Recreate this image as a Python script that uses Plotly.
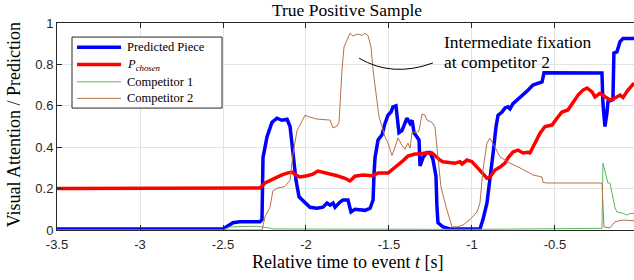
import plotly.graph_objects as go

# ---------------- data ----------------
t_pred = [-3.5, -2.5, -2.44, -2.40, -2.277, -2.265, -2.259, -2.235, -2.205, -2.175, -2.145, -2.114,
          -2.096, -2.078, -2.060, -2.042, -2.006, -1.976, -1.934, -1.898, -1.873, -1.855, -1.837,
          -1.825, -1.795, -1.777, -1.747, -1.729, -1.705, -1.675, -1.645, -1.614, -1.596, -1.590,
          -1.584, -1.566, -1.542, -1.524, -1.506, -1.488, -1.476, -1.458, -1.452, -1.440, -1.422,
          -1.404, -1.392, -1.373, -1.361, -1.349, -1.331, -1.319, -1.313, -1.295, -1.271, -1.253,
          -1.235, -1.217, -1.211, -1.205, -1.175, -1.133, -0.952, -0.934, -0.910, -0.892, -0.873,
          -0.855, -0.843, -0.819, -0.801, -0.783, -0.771, -0.753, -0.723, -0.693, -0.663, -0.633,
          -0.608, -0.578, -0.566, -0.548, -0.217, -0.211, -0.199, -0.187, -0.181, -0.151, -0.145,
          -0.127, -0.108, -0.090, -0.024, 0.0]
y_pred = [0.005, 0.005, 0.035, 0.04, 0.04, 0.05, 0.35, 0.45, 0.52, 0.54, 0.53, 0.535,
          0.50, 0.37, 0.24, 0.16, 0.135, 0.11, 0.105, 0.11, 0.13, 0.12, 0.13,
          0.11, 0.135, 0.145, 0.145, 0.087, 0.10, 0.097, 0.095, 0.105, 0.145, 0.275,
          0.35, 0.435, 0.46, 0.515, 0.555, 0.57, 0.595, 0.60, 0.545, 0.47, 0.48,
          0.515, 0.54, 0.515, 0.53, 0.47, 0.45, 0.435, 0.31, 0.35, 0.375, 0.375,
          0.34, 0.26, 0.11, 0.035, 0.015, 0.005, 0.005, 0.05, 0.13, 0.24, 0.37,
          0.50, 0.555, 0.57, 0.59, 0.595, 0.585, 0.61, 0.63, 0.65, 0.675, 0.70,
          0.705, 0.715, 0.76, 0.76, 0.758, 0.61, 0.50, 0.565, 0.62, 0.63, 0.855,
          0.86, 0.91, 0.925, 0.925, 0.925]

t_chosen = [-3.5, -2.5, -2.277, -2.247, -2.205, -2.175, -2.145, -2.114, -2.084, -2.060, -2.036,
            -1.994, -1.958, -1.928, -1.898, -1.855, -1.813, -1.765, -1.735, -1.705, -1.657, -1.602,
            -1.566, -1.506, -1.464, -1.422, -1.386, -1.343, -1.313, -1.283, -1.241, -1.217, -1.193,
            -1.175, -1.133, -1.102, -1.072, -1.060, -1.030, -1.000, -0.970, -0.934, -0.910, -0.892,
            -0.861, -0.831, -0.801, -0.783, -0.753, -0.723, -0.693, -0.663, -0.651, -0.620, -0.590,
            -0.560, -0.518, -0.488, -0.458, -0.422, -0.392, -0.361, -0.331, -0.307, -0.277, -0.259,
            -0.229, -0.199, -0.169, -0.139, -0.108, -0.090, -0.060, -0.024]
y_chosen = [0.20, 0.20, 0.203, 0.227, 0.245, 0.255, 0.266, 0.275, 0.28, 0.266, 0.256,
            0.262, 0.27, 0.285, 0.28, 0.27, 0.262, 0.25, 0.237, 0.26, 0.266, 0.262,
            0.275, 0.275, 0.30, 0.33, 0.357, 0.367, 0.367, 0.372, 0.372, 0.352, 0.338,
            0.33, 0.328, 0.323, 0.33, 0.319, 0.338, 0.33, 0.304, 0.275, 0.25, 0.256,
            0.29, 0.304, 0.323, 0.348, 0.377, 0.386, 0.372, 0.375, 0.372, 0.42, 0.468,
            0.50, 0.507, 0.54, 0.57, 0.58, 0.613, 0.652, 0.676, 0.686, 0.667, 0.643,
            0.66, 0.643, 0.628, 0.638, 0.652, 0.64, 0.676, 0.71]

t_comp1 = [-3.5, -2.5, -2.458, -2.30, -2.235, -2.20, -1.0, -0.5, -0.217, -0.211, -0.187, -0.181,
           -0.169, -0.157, -0.139, -0.127, -0.096, -0.066, -0.048, -0.024]
y_comp1 = [0.0, 0.0, 0.015, 0.018, 0.012, 0.005, 0.003, 0.008, 0.008, 0.323, 0.256, 0.227,
           0.227, 0.18, 0.11, 0.087, 0.082, 0.072, 0.08, 0.08]

t_comp2 = [-3.5, -2.265, -2.247, -2.217, -2.199, -2.169, -2.127, -2.096, -2.078, -2.054, -2.036,
           -2.006, -1.976, -1.934, -1.855, -1.837, -1.813, -1.801, -1.783, -1.771, -1.753, -1.735,
           -1.717, -1.687, -1.663, -1.645, -1.627, -1.608, -1.596, -1.572, -1.560, -1.542, -1.524,
           -1.506, -1.482, -1.464, -1.446, -1.422, -1.404, -1.386, -1.373, -1.361, -1.337, -1.319,
           -1.301, -1.283, -1.271, -1.241, -1.223, -1.211, -1.187, -1.151, -1.120, -1.090, -1.054,
           -1.012, -0.970, -0.952, -0.934, -0.910, -0.892, -0.861, -0.831, -0.771, -0.711, -0.633,
           -0.578, -0.572, -0.548, -0.217, -0.205, -0.169, -0.139, -0.090, -0.024]
y_comp2 = [0.0, 0.0, 0.063, 0.11, 0.19, 0.203, 0.21, 0.24, 0.37, 0.48, 0.507,
           0.555, 0.545, 0.536, 0.531, 0.493, 0.502, 0.52, 0.773, 0.884, 0.918, 0.95,
           0.937, 0.947, 0.94, 0.95, 0.94, 0.884, 0.773, 0.613, 0.546, 0.50, 0.45,
           0.42, 0.36, 0.40, 0.445, 0.41, 0.39, 0.42, 0.395, 0.473, 0.47, 0.48,
           0.56, 0.555, 0.531, 0.52, 0.497, 0.40, 0.208, 0.097, 0.015, 0.015, 0.024,
           0.05, 0.087, 0.13, 0.29, 0.42, 0.444, 0.40, 0.353, 0.323, 0.30, 0.266,
           0.256, 0.23, 0.227, 0.227, 0.015, 0.01, 0.04, 0.048, 0.045]

series_names = ["Predicted Piece", "<i>P</i><sub><i>chosen</i></sub>", "Competitor 1", "Competitor 2"]
series_colors = ["#0000ff", "#ff0000", "#5cb85c", "#b5714a"]
series_widths = [3.5, 3.5, 1, 1]

x_ticks = [-3.5, -3, -2.5, -2, -1.5, -1, -0.5, 0]
x_tick_labels = ["-3.5", "-3", "-2.5", "-2", "-1.5", "-1", "-0.5", "0"]
y_ticks = [0, 0.2, 0.4, 0.6, 0.8, 1]
y_tick_labels = ["0", "0.2", "0.4", "0.6", "0.8", "1"]

annotation_lines = ["Intermediate fixation", "at competitor 2"]

# ---------------- figure ----------------
SERIF = "Liberation Serif"
SANS = "Liberation Sans"
AX = "#262626"

fig = go.Figure()
for tx, ty, nm, col, w in zip([t_pred, t_chosen, t_comp1, t_comp2],
                              [y_pred, y_chosen, y_comp1, y_comp2],
                              series_names, series_colors, series_widths):
    fig.add_trace(go.Scatter(x=tx, y=ty, mode="lines", name=nm,
                             line=dict(color=col, width=w), showlegend=False))

# manual legend (compact, MATLAB-like)
LEG_X0, LEG_X1, LEG_Y0, LEG_Y1 = 0.026, 0.286, 0.589, 0.932
row_y = [0.8826, 0.7995, 0.716, 0.636]
fig.add_shape(type="rect", xref="paper", yref="paper", x0=LEG_X0, x1=LEG_X1, y0=LEG_Y0, y1=LEG_Y1,
              line=dict(color=AX, width=1), fillcolor="white", layer="above")
for ry, nm, col, w in zip(row_y, series_names, series_colors, series_widths):
    fig.add_shape(type="line", xref="paper", yref="paper", x0=0.0347, x1=0.111, y0=ry, y1=ry,
                  line=dict(color=col, width=w), layer="above")
    fig.add_annotation(x=0.118, y=ry, xref="paper", yref="paper", xanchor="left",
                       yanchor="middle", text=nm, showarrow=False,
                       font=dict(family=SERIF, size=12.5, color="black"))

# annotation callout curve
fig.add_shape(type="path", xref="x", yref="y",
              path="M -1.68,0.83 Q -1.48,0.735 -1.235,0.807",
              line=dict(color="black", width=1))
for txt, ly in zip(annotation_lines, [0.908, 0.812]):
    fig.add_annotation(x=-1.181, y=ly, xref="x", yref="y", xanchor="left", yanchor="middle",
                       text=txt, showarrow=False,
                       font=dict(family=SERIF, size=17.5, color="black"))

# axis titles as annotations
fig.add_annotation(x=0.5026, y=-0.155, xref="paper", yref="paper", xanchor="center",
                   yanchor="middle", text="Relative time to event <i>t</i> [s]", showarrow=False,
                   font=dict(family=SERIF, size=18, color="black"))
fig.add_annotation(x=-0.073, y=0.51, xref="paper", yref="paper", xanchor="center",
                   yanchor="middle", text="Visual Attention / Prediction", showarrow=False,
                   textangle=-90, font=dict(family=SERIF, size=18, color="black"))

fig.update_layout(
    width=634, height=280,
    margin=dict(l=57, r=0, t=23, b=50),
    paper_bgcolor="white", plot_bgcolor="white",
    title=dict(text="True Positive Sample", x=0.5026, xref="paper", y=1 - 10 / 280,
               yref="container", xanchor="center", yanchor="middle",
               font=dict(family=SERIF, size=17.5, color="black")),
    showlegend=False,
    xaxis=dict(range=[-3.5, -0.024], tickvals=x_ticks, ticktext=x_tick_labels,
               showgrid=True, gridcolor="#e3e3e3", gridwidth=1, zeroline=False,
               showline=True, linecolor=AX, linewidth=1, mirror="ticks",
               ticks="inside", ticklen=5, tickcolor=AX, ticklabelstandoff=2,
               tickfont=dict(family=SANS, size=13, color=AX)),
    yaxis=dict(range=[0, 1], tickvals=y_ticks, ticktext=y_tick_labels,
               showgrid=True, gridcolor="#e3e3e3", gridwidth=1, zeroline=False,
               showline=True, linecolor=AX, linewidth=1, mirror=False,
               ticks="inside", ticklen=5, tickcolor=AX,
               tickfont=dict(family=SANS, size=13, color=AX)),
)

fig.write_html("out.html", config={"displayModeBar": False},
               post_script="document.body.style.margin='0';")
